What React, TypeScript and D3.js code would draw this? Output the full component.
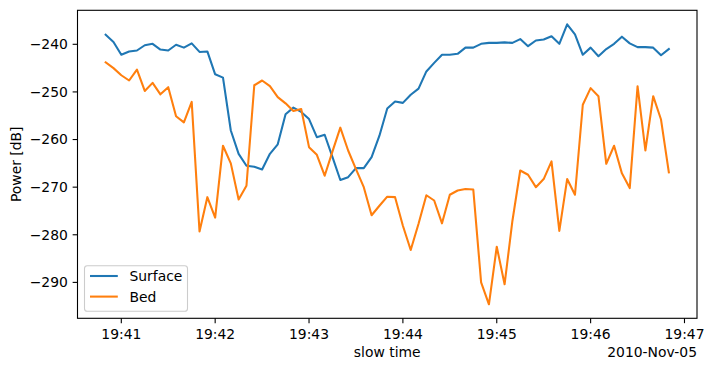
import React from "react";
import * as d3 from "d3";

// samples every 5 s starting 19:40:50
const startTime = new Date(2010, 10, 5, 19, 40, 50);
const stepSeconds = 5;

const surface = [
  -238.0, -239.5, -242.2, -241.5, -241.3, -240.2, -239.9, -241.1, -241.3, -240.1,
  -240.7, -239.8, -241.6, -241.5, -246.3, -247.0, -258.1, -263.0, -265.5, -265.7,
  -266.3, -263.0, -261.0, -254.7, -253.3, -254.2, -255.7, -259.5, -259.0, -263.7,
  -268.5, -267.9, -266.0, -266.0, -263.7, -259.2, -253.5, -252.0, -252.3, -250.6,
  -249.3, -245.7, -243.9, -242.2, -242.2, -242.0, -240.7, -240.7, -239.9, -239.7,
  -239.7, -239.6, -239.7, -238.9, -240.4, -239.2, -239.0, -238.3, -239.9, -235.8,
  -237.9, -242.2, -240.7, -242.5, -241.0, -239.9, -238.4, -239.8, -240.6, -240.6,
  -240.7, -242.3, -241.0,
];

const bed = [
  -243.8, -245.0, -246.5, -247.6, -245.3, -249.8, -248.1, -250.5, -249.0, -255.1,
  -256.4, -252.1, -279.3, -272.1, -276.4, -261.3, -265.0, -272.6, -269.7, -248.6,
  -247.6, -248.8, -251.1, -252.4, -254.0, -253.6, -261.6, -263.2, -267.6, -262.5,
  -257.5, -262.3, -266.2, -270.0, -275.9, -273.9, -272.0, -272.1, -278.1, -283.2,
  -277.7, -271.7, -272.8, -277.6, -271.6, -270.7, -270.4, -270.5, -290.0, -294.6,
  -282.5, -290.4, -277.1, -266.5, -267.4, -270.0, -268.3, -264.6, -279.2, -268.3,
  -271.6, -252.7, -249.2, -250.9, -265.1, -261.3, -267.1, -270.2, -248.8, -262.3,
  -250.9, -255.8, -266.9,
];

const yTicks = [-290, -280, -270, -260, -250, -240];
const seriesNames = ["Surface", "Bed"];
const colors = ["#1f77b4", "#ff7f0e"];

const W = 714;
const H = 371;
const left = 77.5;
const right = 697;
const top = 10.3;
const bottom = 318.3;
const font = "'DejaVu Sans', sans-serif";
const fs = 13.9;
const tickLen = 4.86;

export default function App() {
  const times = surface.map((_, i) => new Date(startTime.getTime() + i * stepSeconds * 1000));
  const t0 = times[0].getTime();
  const t1 = times[times.length - 1].getTime();
  const tPad = (t1 - t0) * 0.05;
  const x = d3.scaleTime().domain([new Date(t0 - tPad), new Date(t1 + tPad)]).range([left, right]);

  const all = surface.concat(bed);
  const yMin = d3.min(all) as number;
  const yMax = d3.max(all) as number;
  const yPad = (yMax - yMin) * 0.05;
  const y = d3.scaleLinear().domain([yMin - yPad, yMax + yPad]).range([bottom, top]);

  const line = d3
    .line<number>()
    .x((_, i) => x(times[i]))
    .y((d) => y(d));

  const xTicks = x.ticks(d3.timeMinute.every(1) as d3.TimeInterval);
  const fmt = d3.timeFormat("%H:%M");

  const legX = 84.5;
  const legY = 265.8;
  const legW = 103;
  const legH = 45.4;

  return (
    <svg
      width={W}
      height={H}
      style={{ position: "absolute", left: 0, top: 0, background: "#fff" }}
      fontFamily={font}
      fontSize={fs}
    >
      <rect width={W} height={H} fill="#fff" />
      <clipPath id="plot">
        <rect x={left} y={top} width={right - left} height={bottom - top} />
      </clipPath>
      <g clipPath="url(#plot)">
        {[surface, bed].map((s, k) => (
          <path
            key={k}
            d={line(s) || ""}
            fill="none"
            stroke={colors[k]}
            strokeWidth={2.08}
            strokeLinejoin="round"
            strokeLinecap="square"
          />
        ))}
      </g>
      <rect
        x={left}
        y={top}
        width={right - left}
        height={bottom - top}
        fill="none"
        stroke="#000"
        strokeWidth={1.1}
      />
      {xTicks.map((t) => (
        <g key={t.getTime()} transform={`translate(${x(t)},${bottom})`}>
          <line y2={tickLen} stroke="#000" strokeWidth={1.1} />
          <text y={20.3} textAnchor="middle" fill="#000">
            {fmt(t)}
          </text>
        </g>
      ))}
      {yTicks.map((v) => (
        <g key={v} transform={`translate(${left},${y(v)})`}>
          <line x2={-tickLen} stroke="#000" strokeWidth={1.1} />
          <text x={-9.7} dy="0.35em" textAnchor="end" fill="#000">
            {"\u2212" + Math.abs(v)}
          </text>
        </g>
      ))}
      <text x={(left + right) / 2} y={357} textAnchor="middle" fill="#000">
        slow time
      </text>
      <text x={right} y={357} textAnchor="end" fill="#000">
        2010-Nov-05
      </text>
      <text
        transform={`translate(20.5,${(top + bottom) / 2}) rotate(-90)`}
        textAnchor="middle"
        fill="#000"
      >
        Power [dB]
      </text>
      <g>
        <rect
          x={legX}
          y={legY}
          width={legW}
          height={legH}
          rx={2.8}
          fill="#fff"
          fillOpacity={0.8}
          stroke="#cccccc"
          strokeWidth={1.1}
        />
        {seriesNames.map((name, k) => (
          <g key={name} transform={`translate(0,${276 + k * 20.6})`}>
            <line x1={90} x2={117.8} stroke={colors[k]} strokeWidth={2.08} />
            <text x={129.5} dy="0.36em" fill="#000">
              {name}
            </text>
          </g>
        ))}
      </g>
    </svg>
  );
}
